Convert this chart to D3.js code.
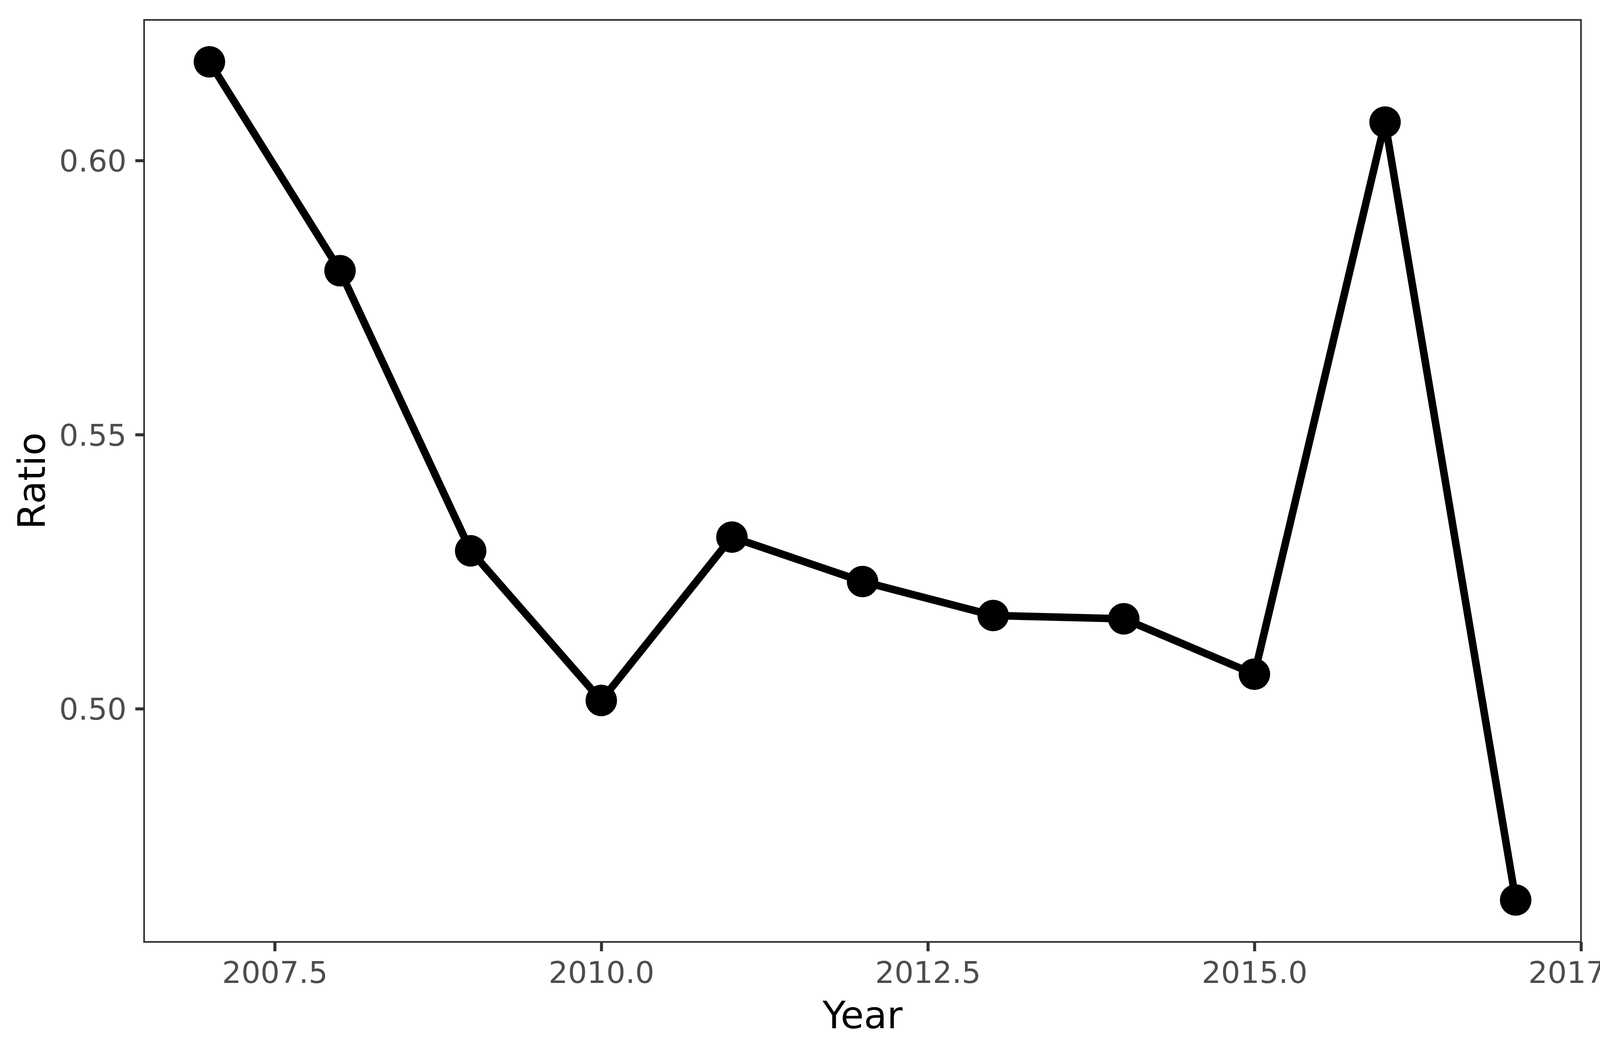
<!DOCTYPE html>
<html>
<head>
<meta charset="utf-8">
<script src="https://cdn.jsdelivr.net/npm/d3@7"></script>
<style>
  html, body { margin: 0; padding: 0; background: #fff; overflow: hidden; }
  svg { display: block; font-family: "DejaVu Sans", sans-serif; }
</style>
</head>
<body>
<div id="chart"></div>
<script>
// data
const years  = [2007, 2008, 2009, 2010, 2011, 2012, 2013, 2014, 2015, 2016, 2017];
const ratios = [0.6180, 0.5799, 0.5288, 0.5015, 0.5313, 0.5232, 0.5170, 0.5164, 0.5063, 0.6070, 0.4651];
const xTicks = [2007.5, 2010.0, 2012.5, 2015.0, 2017.5];
const yTicks = [0.50, 0.55, 0.60];

// layout is designed for 4375x2703, then fitted to the real viewport
const W = 4375, H = 2703;
const vw = window.innerWidth || W, vh = window.innerHeight || H;
const kx = vw / W, ky = vh / H, k = Math.sqrt(kx * ky);

const margin = { top: 51 * ky, right: 52 * kx, bottom: 292 * ky, left: 394 * kx };
const w = vw - margin.left - margin.right;
const h = vh - margin.top - margin.bottom;

const points = years.map((y, i) => ({ year: y, ratio: ratios[i] }));

// ggplot style 5% expansion
const xExt = d3.extent(years), yExt = d3.extent(ratios);
const xPad = (xExt[1] - xExt[0]) * 0.05, yPad = (yExt[1] - yExt[0]) * 0.05;

const x = d3.scaleLinear().domain([xExt[0] - xPad, xExt[1] + xPad]).range([0, w]);
const y = d3.scaleLinear().domain([yExt[0] - yPad, yExt[1] + yPad]).range([h, 0]);

const svg = d3.select("#chart").append("svg")
    .attr("width", vw)
    .attr("height", vh);

const g = svg.append("g").attr("transform", `translate(${margin.left},${margin.top})`);

// axes
const xAxis = g.append("g")
    .attr("transform", `translate(0,${h})`)
    .call(d3.axisBottom(x).tickValues(xTicks).tickFormat(d3.format(".1f"))
        .tickSize(24 * ky).tickSizeOuter(0).tickPadding(26 * ky));

const yAxis = g.append("g")
    .call(d3.axisLeft(y).tickValues(yTicks).tickFormat(d3.format(".2f"))
        .tickSize(24 * kx).tickSizeOuter(0).tickPadding(24 * kx));

[xAxis, yAxis].forEach(a => {
    a.select(".domain").remove();
    a.selectAll(".tick line").attr("stroke", "#333333").attr("stroke-width", 8 * k);
    a.selectAll(".tick text")
        .attr("fill", "#4D4D4D")
        .attr("font-size", 80 * k)
        .attr("font-family", "DejaVu Sans");
});
yAxis.selectAll(".tick text").attr("dy", "0.36em");

// line and points
const line = d3.line()
    .x(d => x(d.year))
    .y(d => y(d.ratio));

g.append("path")
    .datum(points)
    .attr("fill", "none")
    .attr("stroke", "#000")
    .attr("stroke-width", 20 * k)
    .attr("stroke-linejoin", "round")
    .attr("d", line);

g.selectAll("circle")
    .data(points)
    .enter().append("circle")
    .attr("cx", d => x(d.year))
    .attr("cy", d => y(d.ratio))
    .attr("r", 41.7 * k)
    .attr("fill", "#000");

// panel border
g.append("rect")
    .attr("width", w)
    .attr("height", h)
    .attr("fill", "none")
    .attr("stroke", "#333333")
    .attr("stroke-width", 4.5 * k);

// axis titles
svg.append("text")
    .attr("x", margin.left + w / 2)
    .attr("y", 2632 * ky)
    .attr("text-anchor", "middle")
    .attr("font-size", 100 * k)
    .attr("fill", "#000")
    .text("Year");

svg.append("text")
    .attr("transform", `translate(${123 * kx},${margin.top + h / 2}) rotate(-90)`)
    .attr("text-anchor", "middle")
    .attr("font-size", 100 * k)
    .attr("fill", "#000")
    .text("Ratio");
</script>
</body>
</html>
